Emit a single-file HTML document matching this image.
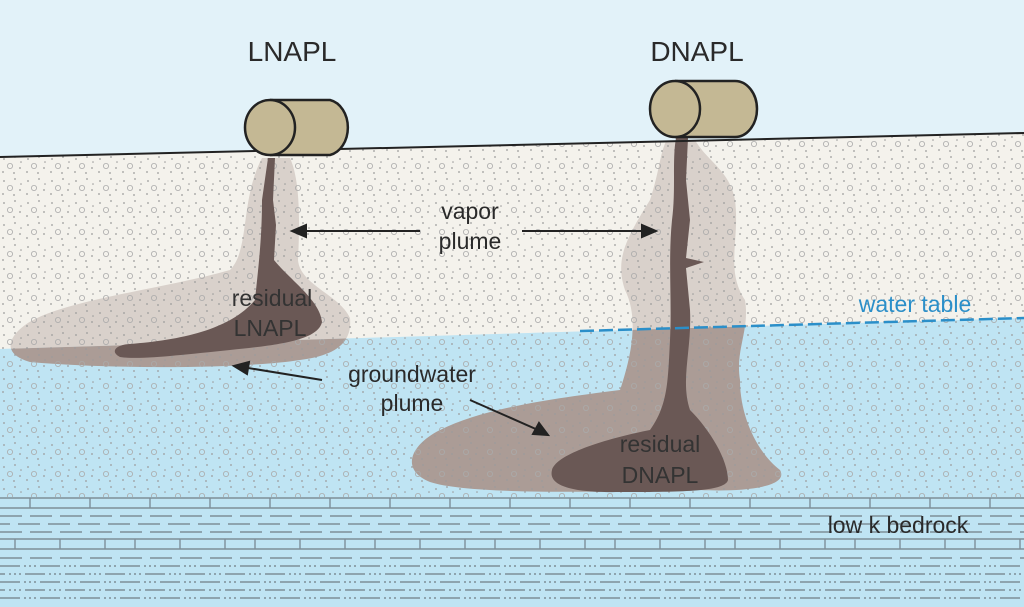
<!DOCTYPE html>
<html><head><meta charset="utf-8"><style>
html,body{margin:0;padding:0;background:#e2f2f9}
svg{display:block}
text{font-family:"Liberation Sans",sans-serif}
</style></head><body>
<svg width="1024" height="607" viewBox="0 0 1024 607" xmlns="http://www.w3.org/2000/svg">
<defs>
<pattern id="dots" width="24" height="22" patternUnits="userSpaceOnUse">
<circle cx="4" cy="5" r="0.9" fill="#9a9a9a"/><circle cx="15" cy="3" r="0.9" fill="#9a9a9a"/>
<circle cx="10" cy="12" r="2.6" fill="none" stroke="#aaa" stroke-width="0.8"/>
<circle cx="20" cy="14" r="0.9" fill="#9a9a9a"/><circle cx="3" cy="18" r="0.9" fill="#9a9a9a"/>
<circle cx="14" cy="19" r="0.9" fill="#9a9a9a"/><circle cx="21" cy="8" r="0.8" fill="#9a9a9a"/>
</pattern>
<pattern id="rock" width="120" height="110" patternUnits="userSpaceOnUse" patternTransform="translate(0,497)">
<g stroke="#7d8e98" stroke-width="1.4" fill="none">
<line x1="0" y1="1" x2="120" y2="1"/><line x1="0" y1="11" x2="120" y2="11"/>
<line x1="30" y1="1" x2="30" y2="11"/><line x1="90" y1="1" x2="90" y2="11"/>
<line x1="0" y1="19" x2="120" y2="19" stroke-dasharray="22 8"/>
<line x1="0" y1="27" x2="120" y2="27" stroke-dasharray="22 8" stroke-dashoffset="12"/>
<line x1="0" y1="35" x2="120" y2="35" stroke-dasharray="22 8"/>
<line x1="0" y1="42" x2="120" y2="42"/><line x1="0" y1="52" x2="120" y2="52"/>
<line x1="15" y1="42" x2="15" y2="52"/><line x1="60" y1="42" x2="60" y2="52"/><line x1="105" y1="42" x2="105" y2="52"/>
<line x1="0" y1="61" x2="120" y2="61" stroke-dasharray="22 8"/>
<line x1="0" y1="69" x2="120" y2="69" stroke-dasharray="20 4 2 3 2 3 2 4"/>
<line x1="0" y1="77" x2="120" y2="77" stroke-dasharray="20 4 2 3 2 3 2 4" stroke-dashoffset="15"/>
<line x1="0" y1="85" x2="120" y2="85" stroke-dasharray="20 4 2 3 2 3 2 4"/>
<line x1="0" y1="93" x2="120" y2="93" stroke-dasharray="20 4 2 3 2 3 2 4" stroke-dashoffset="15"/>
<line x1="0" y1="101" x2="120" y2="101" stroke-dasharray="20 4 2 3 2 3 2 4"/>
</g></pattern>
<clipPath id="cu"><polygon points="0,157 1024,133 1024,318 0,349"/></clipPath>
<clipPath id="cs"><polygon points="0,349 1024,318 1024,500 0,500"/></clipPath>
<clipPath id="c1"><polygon points="0,157 1024,133 1024,497 0,497"/></clipPath>
<path id="lp" d="M262,158 L290,158 C300,180 300,220 298,260 C300,285 340,295 350,318 C352,340 340,355 300,360 C250,368 120,370 30,362 C5,355 5,340 25,325 C60,300 160,290 230,270 C250,250 240,200 262,158 Z"/>
<path id="dp" d="M668,138 L694,138 C705,160 730,170 735,200 C740,240 725,270 745,300 C750,330 735,350 740,380 C740,420 760,455 780,470 C790,488 740,492 700,490 C600,492 470,495 430,482 C400,470 410,445 440,430 C480,410 540,400 620,390 C630,360 640,320 625,290 C615,260 625,240 650,200 C660,170 660,150 668,138 Z"/>
</defs>
<rect width="1024" height="607" fill="#e2f2f9"/>
<polygon points="0,157 1024,133 1024,318 0,349" fill="#f4f2ec"/>
<polygon points="0,349 1024,318 1024,497 0,497" fill="#bfe4f3"/>
<rect x="0" y="497" width="1024" height="110" fill="#bfe4f3"/>
<rect x="0" y="497" width="1024" height="110" fill="url(#rock)"/>
<!-- plumes -->
<g clip-path="url(#cu)" fill="#d9d1cb"><use href="#lp"/><use href="#dp"/></g>
<g clip-path="url(#cs)" fill="#ab9c96"><use href="#lp"/><use href="#dp"/></g>
<rect x="0" y="0" width="1024" height="497" fill="url(#dots)" clip-path="url(#c1)"/>
<!-- LNAPL dark core -->
<path d="M268,158 L275,158 L273,200 L276,225 L274,260 C290,280 320,300 322,322 C318,340 280,345 230,350 C180,355 140,360 120,357 C110,352 115,345 130,344 C180,340 230,330 255,300 C258,270 262,240 262,200 Z" fill="#6a5855"/>
<!-- DNAPL dark core -->
<path d="M676,138 L688,138 L686,180 L690,220 L686,258 L704,262 L686,268 L690,310 C692,350 680,380 690,410 C710,430 728,460 728,480 C725,492 680,492 620,492 C570,493 548,485 552,470 C556,455 600,440 650,430 C668,405 668,380 670,340 C672,300 668,260 672,220 C676,190 672,160 676,138 Z" fill="#6a5855"/>
<line x1="0" y1="157" x2="1024" y2="133" stroke="#222" stroke-width="2"/>
<line x1="580" y1="331" x2="1024" y2="318" stroke="#2b8fc9" stroke-width="2.5" stroke-dasharray="14 5"/>
<g stroke="#222" stroke-width="2.5" fill="#c4b894">
<path d="M270,100 L330,100 A22,28 0 0 1 330,155 L270,155"/>
<ellipse cx="270" cy="127.5" rx="25" ry="27.5"/>
<path d="M675,81 L735,81 A22,28 0 0 1 735,137 L675,137"/>
<ellipse cx="675" cy="109" rx="25" ry="28"/>
</g>
<g stroke="#222" stroke-width="2" fill="#222">
<line x1="420" y1="231" x2="300" y2="231"/><polygon points="292,231 306,225 306,237"/>
<line x1="522" y1="231" x2="648" y2="231"/><polygon points="656,231 642,225 642,237"/>
<line x1="322" y1="380" x2="242" y2="367"/><polygon points="234,366 249,362 247,374"/>
<line x1="470" y1="400" x2="538" y2="430"/><polygon points="548,435 533,434 539,423"/>
</g>
<g font-size="23" fill="#2a2a2a" text-anchor="middle">
<text x="292" y="61" font-size="28">LNAPL</text>
<text x="697" y="61" font-size="28">DNAPL</text>
<text x="470" y="219">vapor</text>
<text x="470" y="249">plume</text>
<text x="272" y="306" fill="#333">residual</text>
<text x="270" y="336" fill="#333">LNAPL</text>
<text x="412" y="382">groundwater</text>
<text x="412" y="411">plume</text>
<text x="660" y="452" fill="#333">residual</text>
<text x="660" y="483" fill="#333">DNAPL</text>
<text x="915" y="312" fill="#2b8fc9">water table</text>
<text x="898" y="533">low k bedrock</text>
</g>
</svg>
</body></html>
